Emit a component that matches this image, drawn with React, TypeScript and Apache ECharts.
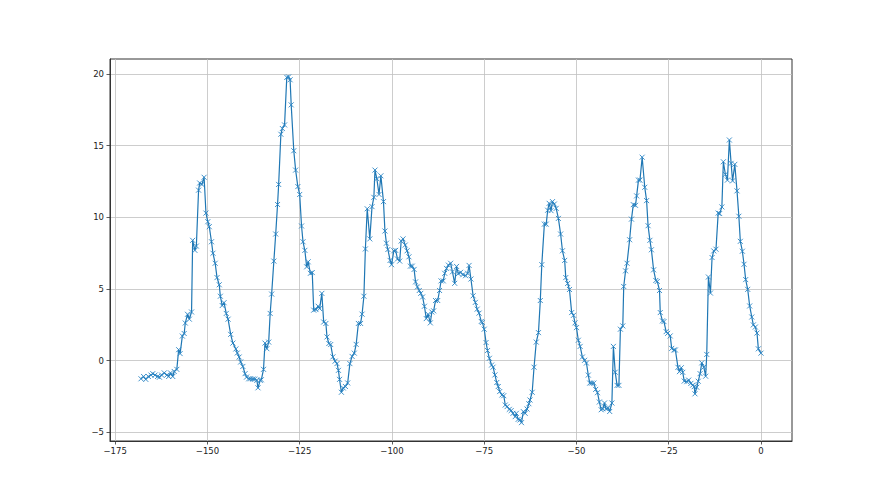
import React, { useEffect, useRef } from "react";
import * as echarts from "echarts";

const hours = [
  -168, -167.3, -166.7, -166, -165.3, -164.8, -164.2, -163.5, -163, -162.4, -161.7, -161, -160.5, -160, -159.4, -159, -158.3, -157.8, -157.4, -156.8, -156.3, -156, -155.4, -154.9, -154.3, -154, -153.4, -153, -152.4, -152.1, -151.5, -150.9, -150.4, -149.9, -149.5, -148.9, -148.5, -147.9, -147.4, -146.8, -146.5, -146, -145.5, -144.9, -144.4, -143.7, -143.1, -142.3, -141.9, -141.4, -141, -140.4, -139.8, -139.4, -138.8, -138.3, -137.7, -137.2, -136.6, -136.3, -135.7, -135.4, -134.8, -134.4, -133.9, -133.4,
  -133.0, -132.6, -132.0, -131.5, -131.0, -130.7, -130.1, -129.7, -129.1, -128.5, -128.0, -127.6, -127.3, -126.6, -126.1, -125.5, -125.0, -124.5, -124.1, -123.6, -123.1, -122.7, -122.1, -121.6, -121.2, -120.6, -120.0, -119.6, -119.0, -118.5, -117.9, -117.6, -117.1, -116.6, -116.0, -115.4, -114.9, -114.5, -114.2, -113.7, -113.2, -112.6, -112.0, -111.4, -110.8, -110.2, -109.7, -109.1, -108.5, -108.1, -107.6, -107.2, -106.7,
  -106.0, -105.4, -104.9, -104.6, -104.1, -103.5, -103.0, -102.3, -101.9, -101.5, -101.1, -100.5, -100.1, -99.5, -99.0, -98.5, -97.9, -97.5, -97.0, -96.4, -95.9, -95.4, -95.0, -94.5, -94.0, -93.6, -93.1, -92.6, -92.2, -91.7, -91.2, -90.7, -90.2, -89.6, -89.2, -88.7, -88.2, -87.6, -87.1, -86.7, -86.1, -85.7, -85.2, -84.7, -84.1, -83.6, -83.0,
  -82.5, -82.0, -81.4, -80.8, -80.05, -79.5, -79.1, -78.6, -78.0, -77.4, -76.9, -76.4, -75.8, -75.5, -75.0, -74.5, -74.1, -73.6, -73.0, -72.6, -72.1, -71.6, -71.2, -70.8, -70.2, -69.7, -69.3, -68.8, -68.2, -67.7, -67.2, -66.6, -66.3, -65.8, -65.3, -64.9, -64.4, -63.9, -63.4, -62.9, -62.6, -62.0, -61.5,
  -60.9, -60.3, -59.8, -59.4, -58.7, -58.2, -57.8, -57.4, -56.9, -56.5, -56.0, -55.5, -54.9, -54.3, -53.8, -53.2, -52.9, -52.4, -51.9, -51.3, -50.8, -50.4, -50.0, -49.5, -49.0, -48.4, -47.8, -47.3, -46.8, -46.4, -45.9, -45.3, -44.8, -44.3, -43.8, -43.3, -42.9, -42.4, -42.0, -41.4, -41.0, -40.4, -40.0, -39.5, -39.0, -38.5,
  -38.1, -37.45, -37.2, -36.7, -36.3, -35.6, -35.1, -34.6, -34.0, -33.7, -33.2, -32.8, -32.2, -31.5, -31.0, -30.6, -30.1, -29.7, -29.1, -28.5, -28.1, -27.5, -27.3, -26.7, -26.3, -25.7, -25.3, -24.6, -24.2, -23.6, -23.2, -22.5, -22.1, -21.6, -21.2, -20.8, -20.1, -19.6, -19.0, -18.5, -18.1,
  -17.9, -17.4, -17.0, -16.5, -16.05, -15.5, -15.0, -14.7, -14.25, -13.7, -13.26, -12.8, -12.2, -11.6, -11.2, -10.6, -10.2, -9.65, -9.1, -8.57, -8.1, -7.7, -7.1, -6.5, -6.0, -5.6, -5.05, -4.6, -4.15, -3.6, -3.07, -2.5, -2.07, -1.53, -1.08, -0.72, 0,
];

const values = [
  -1.26, -1.1, -1.3, -1.1, -1.0, -0.9, -1.0, -1.1, -1.15, -1.0, -0.85, -1.0, -1.1, -0.85, -1.1, -0.75, -0.6, 0.77, 0.5, 1.72, 1.9, 2.63, 3.24, 2.9, 3.4, 8.4, 7.7, 8.0, 11.9, 12.4, 12.3, 12.8, 10.3, 9.7, 9.35, 8.3, 7.5, 6.8, 5.8, 5.3, 4.5, 3.85, 4.05, 3.3, 2.9, 1.84, 1.23, 0.82, 0.54, 0.26, -0.09, -0.4, -0.9, -1.14, -1.26, -1.26, -1.28, -1.28, -1.37, -1.89, -1.37, -1.33, -0.6, 1.23, 0.84, 1.3,
  3.3, 4.65, 6.95, 8.84, 10.9, 12.3, 15.8, 16.2, 16.45, 19.77, 19.8, 19.6, 17.85, 14.65, 13.3, 12.15, 11.6, 9.4, 8.3, 7.7, 6.55, 6.9, 6.1, 6.15, 3.53, 3.57, 3.8, 3.64, 4.7, 2.7, 2.6, 1.66, 1.2, 1.13, 0.27, -0.03, -0.2, -0.67, -1.3, -2.2, -1.9, -1.8, -1.55, -0.2, 0.3, 0.53, 1.14, 2.6, 2.6, 3.25, 4.5, 7.8, 10.6,
  8.5, 10.75, 11.4, 13.3, 12.7, 11.6, 12.9, 11.1, 9.05, 8.2, 7.76, 7.0, 6.7, 7.67, 7.7, 7.1, 6.95, 8.35, 8.5, 8.07, 7.67, 7.25, 6.6, 6.6, 6.37, 5.5, 5.15, 4.9, 4.7, 4.45, 3.8, 2.94, 3.24, 2.64, 3.4, 3.48, 4.2, 4.2, 4.9, 5.57, 5.57, 6.1, 6.44, 6.67, 6.8, 6.2, 5.4,
  6.58, 6.07, 6.17, 6.0, 5.93, 6.1, 6.65, 5.7, 4.53, 4.07, 3.6, 3.32, 2.74, 2.67, 2.2, 1.27, 0.71, 0.17, -0.3, -0.45, -0.99, -1.52, -1.8, -2.15, -2.39, -2.44, -3.09, -3.2, -3.39, -3.48, -3.67, -3.9, -3.67, -4.09, -4.13, -4.32, -3.55, -3.67, -3.37, -3.0, -2.74, -2.2, -0.45,
  1.3, 1.96, 4.2, 6.7, 9.53, 9.53, 10.5, 10.98, 10.47, 11.1, 10.93, 10.63, 9.93, 8.84, 7.67, 7.0, 5.8, 5.39, 4.97, 3.36, 3.17, 2.64, 2.31, 1.43, 1.0, 0.26, 0.03, -0.16, -1.0, -1.56, -1.56, -1.56, -2.0, -2.23, -2.88, -3.42, -3.35, -2.95, -3.35, -3.3, -3.54, -2.95, 1.0, -0.8, -1.72, -1.72,
  2.2, 2.43, 5.18, 6.27, 6.8, 8.44, 9.88, 10.89, 10.84, 11.5, 12.6, 12.6, 14.2, 12.1, 11.17, 9.42, 8.4, 7.74, 6.34, 5.6, 5.53, 4.9, 3.36, 2.78, 2.73, 2.03, 1.91, 1.73, 0.86, 0.75, 0.75, -0.46, -0.76, -0.49, -0.81, -1.42, -1.46, -1.35, -1.58, -1.7, -1.81,
  -2.31, -1.85, -1.43, -0.9, -0.15, -0.45, -1.08, 0.44, 5.84, 4.72, 7.2, 7.66, 7.78, 10.3, 10.27, 10.73, 13.88, 13.0, 12.6, 15.4, 13.77, 12.55, 13.7, 11.85, 10.08, 8.33, 7.64, 6.73, 5.66, 4.98, 3.82, 3.05, 2.5, 2.35, 1.93, 0.83, 0.53,
];

const xTicks = [-175, -150, -125, -100, -75, -50, -25, 0];
const yTicks = [-5, 0, 5, 10, 15, 20];

const fmt = (v: number) => (v < 0 ? "\u2212" + Math.abs(v) : String(v));

export default function App() {
  const ref = useRef<HTMLDivElement>(null);
  useEffect(() => {
    const chart = echarts.init(ref.current!, null, { renderer: "svg" });
    const data = hours.map((h, i) => [h, values[i]]);
    const labelStyle = {
      fontSize: 8.5,
      color: "#222",
      fontFamily: "DejaVu Sans",
      formatter: fmt,
    };
    chart.setOption({
      animation: false,
      backgroundColor: "#ffffff",
      grid: {
        left: 110,
        right: 88,
        top: 59,
        bottom: 54,
        show: true,
        borderColor: "#333",
        borderWidth: 1,
        backgroundColor: "transparent",
      },
      xAxis: {
        type: "value",
        min: -176.4,
        max: 8.4,
        axisLine: { show: true, onZero: false, lineStyle: { color: "#333", width: 1 } },
        axisTick: { show: true, customValues: xTicks, length: 3.5, inside: false, lineStyle: { color: "#333", width: 0.8 } },
        axisLabel: { ...labelStyle, customValues: xTicks, margin: 5 },
        splitLine: { show: true, lineStyle: { color: "#c0c0c0", width: 0.8 } },
      },
      yAxis: {
        type: "value",
        min: -5.6,
        max: 21.05,
        axisLine: { show: true, onZero: false, lineStyle: { color: "#333", width: 1 } },
        axisTick: { show: true, customValues: yTicks, length: 3.5, inside: false, lineStyle: { color: "#333", width: 0.8 } },
        axisLabel: { ...labelStyle, customValues: yTicks, margin: 6 },
        splitLine: { show: true, lineStyle: { color: "#c0c0c0", width: 0.8 } },
      },
      series: [
        {
          type: "line",
          data,
          symbol: "path://M0,0L10,10M10,0L0,10",
          symbolSize: 5,
          showSymbol: true,
          lineStyle: { color: "#1f77b4", width: 1.2 },
          itemStyle: { color: "#1f77b4", borderColor: "#2a85c4", borderWidth: 0.9 },
          z: 3,
        },
      ],
    });
    return () => chart.dispose();
  }, []);
  return (
    <div
      ref={ref}
      style={{ position: "fixed", left: 0, top: 0, width: 880, height: 495 }}
    />
  );
}
